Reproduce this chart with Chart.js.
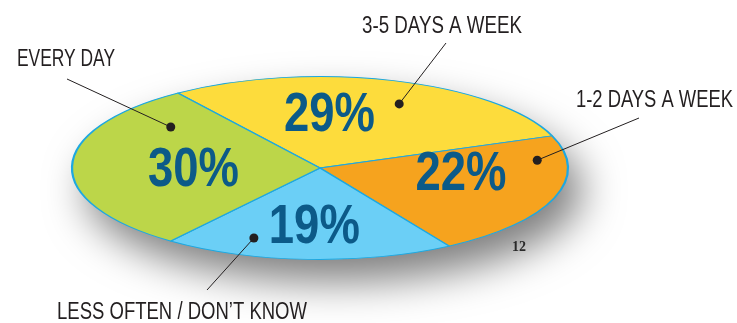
<!DOCTYPE html>
<html lang="en">
<head>
    <meta charset="UTF-8">
    <title>How often</title>
    <script src="https://cdn.jsdelivr.net/npm/chart.js"></script>
    <style>
        html, body { margin: 0; padding: 0; background: #fff; }
        #wrap { width: 737px; height: 323px; }
    </style>
</head>
<body>
    <div id="wrap"><canvas id="ovalChart" width="737" height="323"></canvas></div>
    <script>
        // data, clockwise from the top-left boundary
        const categories = ["3-5 DAYS A WEEK", "1-2 DAYS A WEEK", "LESS OFTEN / DON\u2019T KNOW", "EVERY DAY"];
        const shares = [29, 22, 19, 30];
        const sliceColors = ["#fddc3c", "#f6a31e", "#6bcff6", "#bcd649"];

        // layout only
        const OVAL_W = 248, OVAL_H = 91.5;
        const FONT = "'Liberation Sans', Arial, sans-serif";
        const callouts = [
            { pctFrac: 0.37, pctR: 0.60, dotFrac: 0.57, dotR: 0.77, textX: 362, textY: 33, textW: 160, lineX: 446, lineY: 43 },
            { pctFrac: 0.32, pctR: 0.57, dotFrac: 0.19, dotR: 0.88, textX: 576, textY: 107, textW: 157, lineX: 639, lineY: 118 },
            { pctFrac: 0.49, pctR: 0.62, dotFrac: 0.74, dotR: 0.81, textX: 57, textY: 319, textW: 250, lineX: 207, lineY: 290 },
            { pctFrac: 0.49, pctR: 0.51, dotFrac: 0.83, dotR: 0.75, textX: 17, textY: 66, textW: 98, lineX: 67, lineY: 79 }
        ];

        function spot(arc, frac, r) {
            const a = arc.startAngle + frac * (arc.endAngle - arc.startAngle);
            return { x: arc.x + Math.cos(a) * r * OVAL_W, y: arc.y + Math.sin(a) * r * OVAL_H };
        }

        // squash the round pie into a flat oval, with a soft shadow underneath
        const ovalPlugin = {
            id: "oval",
            beforeDatasetsDraw(chart) {
                const ctx = chart.ctx;
                const arc = chart.getDatasetMeta(0).data[0];
                const cx = arc.x, cy = arc.y, R = arc.outerRadius;
                ctx.save();
                ctx.shadowColor = "rgba(0,0,0,0.5)";
                ctx.shadowBlur = 40;
                ctx.shadowOffsetX = 14;
                ctx.shadowOffsetY = 22;
                ctx.fillStyle = "#6bcff6";
                ctx.beginPath();
                ctx.ellipse(cx, cy, OVAL_W, OVAL_H, 0, 0, Math.PI * 2);
                ctx.fill();
                ctx.restore();

                ctx.save();
                ctx.translate(cx, cy);
                ctx.scale(OVAL_W / R, OVAL_H / R);
                ctx.translate(-cx, -cy);
            },
            afterDatasetsDraw(chart) {
                chart.ctx.restore();
            },
            afterDraw(chart) {
                const ctx = chart.ctx;
                const arcs = chart.getDatasetMeta(0).data;
                ctx.save();
                arcs.forEach((arc, i) => {
                    const c = callouts[i];
                    // percentage, squeezed like a condensed face
                    const p = spot(arc, c.pctFrac, c.pctR);
                    ctx.font = "bold 56px " + FONT;
                    ctx.fillStyle = "#0c5a88";
                    ctx.textAlign = "center";
                    ctx.textBaseline = "alphabetic";
                    ctx.fillText(shares[i] + "%", p.x, p.y + 18, 91);

                    // leader line and dot
                    const d = spot(arc, c.dotFrac, c.dotR);
                    ctx.strokeStyle = "#231f20";
                    ctx.lineWidth = 1;
                    ctx.beginPath();
                    ctx.moveTo(c.lineX, c.lineY);
                    ctx.lineTo(d.x, d.y);
                    ctx.stroke();
                    ctx.fillStyle = "#231f20";
                    ctx.beginPath();
                    ctx.arc(d.x, d.y, 4.5, 0, Math.PI * 2);
                    ctx.fill();

                    // category name
                    ctx.font = "23px " + FONT;
                    ctx.textAlign = "left";
                    ctx.fillText(categories[i], c.textX, c.textY, c.textW);
                });
                ctx.font = "bold 14px 'Liberation Serif', 'DejaVu Serif', serif";
                ctx.fillStyle = "#2a2a2a";
                ctx.fillText("12", 512, 251);
                ctx.restore();
            }
        };

        new Chart(document.getElementById("ovalChart"), {
            type: "pie",
            data: {
                labels: categories,
                datasets: [{
                    data: shares,
                    backgroundColor: sliceColors,
                    borderColor: "#1ea8e0",
                    borderWidth: 1.4
                }]
            },
            options: {
                responsive: false,
                animation: false,
                devicePixelRatio: 1,
                rotation: -35,
                layout: { padding: { left: 0, right: 97, top: 13, bottom: 0 } },
                plugins: {
                    legend: { display: false },
                    tooltip: { enabled: false }
                }
            },
            plugins: [ovalPlugin]
        });
    </script>
</body>
</html>
